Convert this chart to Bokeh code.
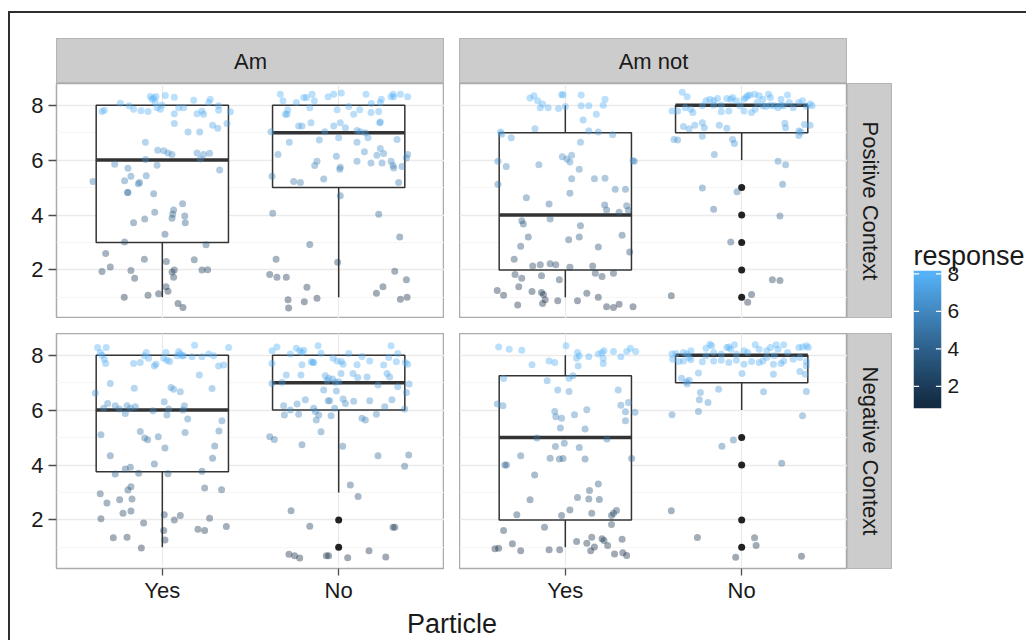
import numpy as np
from math import pi
from bokeh.plotting import figure
from bokeh.models import (Range1d, FixedTicker, Label, LinearColorMapper,
                          Spacer, ColumnDataSource)
from bokeh.layouts import row, column
from bokeh.transform import linear_cmap
from bokeh.embed import file_html
from bokeh.resources import INLINE

# ---------------------------------------------------------------- data
cats = ["Yes", "No"]
particle_facets = ["Am", "Am not"]
context_facets = ["Positive Context", "Negative Context"]
x_title = "Particle"
legend_title = "response"
y_ticks = [2, 4, 6, 8]
y_minor = [1, 3, 5, 7]
legend_ticks = [2, 4, 6, 8]
resp_low, resp_high = 1, 8

# box statistics per panel: [Yes, No]
am_pos_q1, am_pos_med, am_pos_q3, am_pos_lo, am_pos_hi = [3, 5], [6, 7], [8, 8], [1, 1], [8, 8]
amnot_pos_q1, amnot_pos_med, amnot_pos_q3, amnot_pos_lo, amnot_pos_hi = [2, 7], [4, 8], [7, 8], [1, 6], [8, 8]
am_neg_q1, am_neg_med, am_neg_q3, am_neg_lo, am_neg_hi = [3.75, 6], [6, 7], [8, 8], [1, 3], [8, 8]
amnot_neg_q1, amnot_neg_med, amnot_neg_q3, amnot_neg_lo, amnot_neg_hi = [2, 7], [5, 8], [7.25, 8], [1, 6], [8, 8]

# box-plot outliers
am_pos_out_cat, am_pos_out_y = [], []
amnot_pos_out_cat, amnot_pos_out_y = ["No"] * 5, [5, 4, 3, 2, 1]
am_neg_out_cat, am_neg_out_y = ["No"] * 2, [2, 1]
amnot_neg_out_cat, amnot_neg_out_y = ["No"] * 4, [5, 4, 2, 1]

# jittered responses (x position, response)
am_pos_yes = [
    (0.658, 7.77), (0.671, 7.82), (0.762, 8.07), (0.811, 7.98), (0.837, 7.85), (0.879, 7.80), (0.919, 7.77),
    (0.932, 8.32), (0.941, 8.22), (0.951, 8.26), (0.964, 8.32), (0.970, 7.91), (0.989, 7.85), (0.998, 8.00),
    (1.017, 8.35), (1.068, 8.29), (1.068, 7.69), (1.093, 7.91), (1.121, 7.91), (1.178, 8.18), (1.197, 7.69),
    (1.225, 7.79), (1.234, 7.67), (1.263, 8.10), (1.272, 8.22), (1.319, 7.82), (1.319, 7.98), (1.386, 7.76),
    (0.960, 8.10), (1.068, 7.33), (1.146, 7.02), (1.212, 7.02), (1.285, 7.27), (1.314, 7.16), (1.367, 7.33),
    (0.904, 6.65), (0.974, 6.36), (1.008, 6.34), (1.032, 6.26), (1.055, 6.20), (1.197, 6.26), (1.216, 6.04),
    (1.234, 6.20), (1.268, 6.25), (0.905, 6.02), (0.730, 5.85), (0.970, 5.81), (1.325, 5.64), (0.805, 5.70),
    (0.607, 5.22), (0.786, 5.25), (0.822, 5.41), (0.864, 5.14), (0.871, 5.18), (0.909, 5.43), (0.805, 4.82),
    (0.803, 4.82), (0.951, 4.77), (1.115, 4.41), (1.064, 4.18), (1.059, 4.03), (1.055, 3.88), (1.127, 3.96),
    (1.130, 3.72), (0.957, 4.10), (0.900, 3.85), (0.837, 3.72), (1.015, 3.30), (0.786, 3.02), (1.248, 2.92),
    (0.679, 2.60), (0.705, 2.11), (0.658, 1.94), (0.822, 1.98), (0.843, 1.70), (0.898, 2.39), (1.023, 2.31),
    (1.068, 2.00), (1.055, 1.92), (1.064, 1.73), (1.181, 2.37), (1.225, 2.00), (1.257, 2.01), (0.784, 1.00),
    (0.919, 1.08), (0.979, 1.13), (1.021, 1.39), (1.032, 1.22), (1.089, 0.78), (1.117, 0.63)]
am_pos_no = [
    (1.669, 8.40), (1.684, 8.16), (1.698, 7.67), (1.711, 7.83), (1.707, 7.67), (1.760, 8.10), (1.802, 8.28),
    (1.817, 8.28), (1.836, 7.91), (1.849, 8.40), (1.862, 8.16), (1.940, 8.31), (1.972, 8.40), (2.015, 8.44),
    (1.991, 7.83), (2.057, 7.95), (2.085, 7.67), (2.119, 7.83), (2.155, 8.40), (2.183, 7.73), (2.185, 8.06),
    (2.227, 7.77), (2.242, 8.22), (2.297, 8.31), (2.308, 8.40), (2.312, 8.31), (2.350, 8.40), (2.391, 8.31),
    (2.236, 8.10), (1.616, 7.03), (1.773, 7.24), (1.792, 7.24), (1.843, 7.36), (1.921, 7.03), (1.972, 7.24),
    (2.009, 7.36), (2.038, 7.18), (2.104, 7.08), (2.123, 7.03), (2.151, 7.00), (2.166, 6.81), (2.233, 7.36),
    (2.236, 7.39), (2.331, 6.75), (1.890, 6.73), (2.000, 6.81), (2.104, 6.65), (1.720, 6.65), (1.656, 6.20),
    (2.146, 6.30), (2.236, 6.42), (2.217, 6.18), (2.255, 6.24), (1.987, 6.14), (2.391, 6.20), (2.384, 6.08),
    (2.104, 5.96), (2.183, 5.89), (2.246, 5.89), (2.297, 5.96), (2.308, 5.80), (1.877, 5.96), (1.864, 5.80),
    (2.359, 5.77), (2.312, 5.71), (2.006, 5.67), (2.009, 5.74), (1.622, 5.41), (1.745, 5.22), (1.783, 5.18),
    (1.915, 5.31), (2.340, 5.18), (2.009, 4.70), (1.626, 4.06), (2.227, 4.03), (1.836, 2.93), (2.346, 3.20),
    (1.645, 2.39), (1.994, 2.28), (2.318, 1.95), (1.609, 1.83), (1.650, 1.73), (1.703, 1.73), (1.820, 1.37),
    (2.384, 1.64), (1.713, 0.91), (1.716, 0.61), (1.805, 0.84), (1.877, 0.97), (2.214, 1.15), (2.251, 1.39),
    (2.350, 0.93), (2.388, 1.00)]
amnot_pos_yes = [
    (0.800, 8.26), (0.822, 8.34), (0.843, 8.16), (0.858, 7.91), (0.871, 8.04), (0.903, 7.91), (0.961, 7.88),
    (0.979, 8.38), (0.987, 8.38), (1.000, 7.95), (1.090, 8.37), (1.090, 7.98), (1.133, 7.98), (1.176, 7.67),
    (1.215, 8.00), (1.225, 8.22), (1.101, 7.46), (0.633, 7.02), (0.639, 6.94), (0.693, 6.81), (0.828, 7.14),
    (1.133, 7.06), (1.187, 7.02), (1.268, 6.92), (1.086, 6.65), (0.983, 6.12), (1.009, 6.04), (1.036, 6.18),
    (1.026, 5.93), (0.618, 5.96), (0.665, 5.77), (0.850, 5.83), (1.384, 5.98), (1.391, 5.96), (1.079, 5.67),
    (1.036, 5.32), (1.165, 5.32), (1.225, 5.34), (1.283, 4.94), (1.341, 4.94), (0.618, 5.12), (1.026, 4.79),
    (0.779, 4.63), (0.908, 4.40), (1.223, 4.36), (1.234, 4.18), (1.305, 4.10), (1.348, 4.34), (1.358, 4.16),
    (0.753, 3.79), (0.914, 3.85), (0.762, 3.67), (1.086, 3.61), (1.019, 3.10), (1.079, 3.20), (0.790, 3.20),
    (1.322, 3.26), (0.747, 2.86), (1.187, 2.83), (1.365, 2.65), (0.710, 2.39), (0.815, 2.14), (0.858, 2.19),
    (0.914, 2.22), (0.946, 2.19), (1.026, 2.10), (1.155, 2.14), (1.170, 1.88), (1.208, 1.76), (1.273, 1.88),
    (0.715, 1.83), (0.753, 1.70), (0.865, 1.79), (0.966, 1.64), (0.736, 1.39), (0.614, 1.25), (0.650, 1.08),
    (0.811, 1.21), (0.865, 1.18), (0.876, 1.10), (0.886, 0.91), (0.871, 0.78), (0.957, 0.88), (1.069, 0.88),
    (1.122, 1.15), (1.187, 1.00), (1.234, 0.66), (1.273, 0.63), (1.305, 0.75), (1.384, 0.66), (0.730, 0.72)]
amnot_pos_no = [
    (1.663, 8.47), (1.691, 8.31), (1.712, 7.85), (1.723, 7.73), (1.777, 7.98), (1.798, 8.16), (1.820, 8.22),
    (1.841, 8.16), (1.863, 8.24), (1.884, 8.00), (1.916, 8.24), (1.938, 8.22), (1.948, 8.28), (1.970, 8.16),
    (1.991, 7.98), (2.013, 8.22), (2.024, 8.28), (2.034, 8.34), (2.045, 8.37), (2.056, 7.73), (2.073, 8.40),
    (2.088, 8.10), (2.099, 8.34), (2.120, 8.22), (2.137, 7.95), (2.152, 8.40), (2.163, 8.28), (2.185, 7.98),
    (2.206, 7.91), (2.223, 8.22), (2.238, 7.98), (2.260, 8.37), (2.270, 8.10), (2.292, 7.91), (2.324, 8.10),
    (2.345, 8.16), (2.367, 7.95), (2.388, 8.04), (2.399, 7.98), (1.605, 7.79), (1.637, 7.79), (1.680, 7.91),
    (1.841, 8.00), (1.927, 7.79), (2.013, 7.79), (2.077, 7.85), (2.120, 7.98), (2.223, 8.00), (1.884, 7.76),
    (2.163, 8.00), (1.670, 7.22), (1.702, 7.14), (1.734, 7.27), (1.777, 7.36), (1.788, 7.18), (1.873, 7.27),
    (1.916, 7.16), (2.245, 7.34), (2.249, 7.18), (2.324, 7.06), (2.335, 7.02), (2.356, 7.30), (2.388, 7.27),
    (2.324, 6.90), (1.777, 6.87), (1.616, 6.75), (1.637, 6.73), (1.948, 6.75), (1.959, 6.60), (1.845, 6.20),
    (2.206, 5.96), (2.249, 5.83), (1.777, 4.98), (1.974, 4.85), (2.232, 5.12), (1.841, 4.21), (2.217, 3.96),
    (1.938, 3.02), (2.174, 1.64), (2.217, 1.61), (1.601, 1.06), (2.056, 1.10), (2.034, 0.82)]
am_neg_yes = [
    (0.633, 8.28), (0.648, 8.10), (0.658, 8.00), (0.671, 7.85), (0.679, 7.70), (0.682, 8.28), (0.837, 7.70),
    (0.875, 7.73), (0.898, 7.98), (0.909, 8.10), (0.922, 7.89), (0.955, 7.61), (0.964, 7.67), (1.008, 7.89),
    (1.021, 8.10), (1.026, 7.82), (1.042, 7.77), (1.093, 8.13), (1.102, 8.04), (1.121, 7.98), (1.168, 7.94),
    (1.183, 8.36), (1.225, 7.94), (1.263, 8.04), (1.291, 7.98), (1.319, 7.61), (1.348, 7.64), (1.376, 8.28),
    (1.083, 7.98), (1.112, 7.98), (0.705, 6.97), (0.841, 6.80), (1.210, 7.28), (1.049, 6.82), (1.064, 6.76),
    (1.102, 6.67), (1.282, 6.79), (0.620, 6.62), (0.667, 6.07), (0.690, 6.24), (0.733, 6.16), (0.756, 6.04),
    (0.800, 6.16), (0.819, 6.07), (0.847, 6.12), (0.790, 5.88), (0.947, 5.98), (1.011, 6.30), (1.036, 6.04),
    (1.125, 6.16), (1.117, 6.00), (1.026, 5.82), (1.144, 5.68), (1.338, 5.61), (0.652, 5.10), (0.875, 5.22),
    (0.900, 4.98), (0.917, 4.92), (0.977, 5.03), (1.129, 5.18), (1.321, 5.24), (1.297, 4.69), (1.285, 4.25),
    (1.015, 4.62), (0.705, 4.34), (0.790, 3.85), (0.819, 3.92), (0.866, 3.70), (0.733, 3.67), (0.955, 4.04),
    (1.032, 3.68), (1.225, 3.77), (0.805, 3.09), (0.822, 3.21), (0.828, 2.76), (0.758, 2.73), (0.648, 2.95),
    (0.686, 2.62), (0.777, 2.24), (0.822, 2.32), (1.240, 3.16), (1.336, 3.10), (0.652, 2.04), (1.011, 2.19),
    (1.068, 2.00), (1.102, 2.16), (1.268, 2.06), (0.894, 1.89), (0.722, 1.35), (0.800, 1.37), (0.881, 0.98),
    (1.008, 1.61), (1.015, 1.27), (1.202, 1.66), (1.240, 1.61), (1.363, 1.76)]
am_neg_no = [
    (1.622, 8.16), (1.650, 8.30), (1.726, 8.04), (1.760, 8.25), (1.779, 8.16), (1.792, 8.10), (1.802, 8.18),
    (1.845, 7.76), (1.854, 7.73), (1.883, 8.34), (1.900, 8.07), (1.968, 7.89), (1.991, 7.79), (2.015, 7.77),
    (2.025, 7.67), (2.057, 8.06), (2.104, 7.65), (2.132, 7.95), (2.176, 7.79), (2.255, 7.64), (2.284, 7.92),
    (2.297, 8.34), (2.335, 8.06), (2.327, 7.76), (2.378, 7.73), (2.391, 7.67), (1.622, 7.70), (1.792, 7.65),
    (1.622, 6.97), (1.679, 7.01), (1.703, 7.28), (1.786, 7.28), (1.858, 7.73), (1.924, 7.25), (1.934, 7.07),
    (1.943, 7.16), (1.966, 7.13), (1.981, 7.01), (2.013, 7.33), (2.081, 7.33), (2.108, 7.19), (2.161, 7.21),
    (2.223, 6.91), (2.274, 7.33), (2.289, 7.21), (2.335, 6.85), (2.399, 6.95), (2.000, 7.03), (1.688, 6.16),
    (1.726, 6.00), (1.764, 6.22), (1.811, 6.38), (1.858, 6.07), (1.868, 5.95), (1.915, 6.73), (1.940, 6.34),
    (1.987, 6.70), (1.977, 6.07), (1.949, 6.34), (2.025, 6.40), (2.038, 6.24), (2.085, 6.32), (2.176, 6.34),
    (2.214, 5.85), (2.261, 6.12), (2.302, 6.38), (2.374, 6.04), (2.384, 6.64), (2.132, 5.70), (2.151, 5.64),
    (1.692, 5.82), (1.773, 5.85), (1.873, 5.64), (1.887, 5.82), (1.957, 5.79), (1.900, 5.21), (1.609, 5.03),
    (1.635, 4.93), (1.792, 4.74), (2.023, 4.68), (2.223, 4.34), (2.397, 4.36), (2.374, 3.95), (2.066, 3.27),
    (2.110, 2.85), (1.730, 2.33), (1.836, 1.77), (2.308, 1.73), (2.318, 1.73), (1.718, 0.75), (1.750, 0.69),
    (1.779, 0.61), (1.930, 0.69), (1.943, 0.69), (2.051, 0.62), (2.172, 0.88), (2.267, 0.65)]
amnot_neg_yes = [
    (0.622, 8.30), (0.682, 8.22), (0.753, 8.18), (1.004, 8.34), (1.069, 8.10), (1.064, 7.89), (1.079, 7.98),
    (1.133, 7.94), (1.187, 8.04), (1.208, 8.10), (1.219, 8.16), (1.273, 8.13), (1.315, 7.94), (1.348, 8.13),
    (1.369, 8.25), (1.399, 8.13), (0.811, 7.65), (0.908, 7.79), (0.940, 7.73), (1.073, 7.61), (1.215, 7.89),
    (1.215, 7.70), (0.650, 7.15), (0.897, 7.07), (1.021, 7.16), (1.043, 7.25), (0.957, 6.73), (1.021, 6.68),
    (1.300, 6.73), (0.614, 6.22), (0.646, 6.16), (0.940, 5.95), (0.946, 5.76), (0.979, 5.70), (1.052, 5.83),
    (1.122, 6.01), (1.315, 6.18), (1.358, 6.28), (1.341, 5.94), (1.341, 5.61), (1.395, 5.92), (0.972, 5.35),
    (1.112, 5.31), (0.839, 4.98), (1.236, 4.95), (0.944, 4.67), (0.994, 4.79), (1.079, 4.64), (0.747, 4.34),
    (0.914, 4.25), (0.966, 4.22), (0.987, 4.24), (1.112, 4.22), (1.376, 4.24), (0.657, 4.00), (0.667, 4.00),
    (0.826, 3.64), (1.187, 3.31), (1.137, 3.07), (1.133, 2.76), (1.193, 2.74), (1.069, 2.82), (0.800, 2.73),
    (1.026, 2.36), (0.979, 2.16), (1.150, 2.24), (1.262, 2.16), (1.273, 2.24), (1.290, 2.34), (0.725, 2.19),
    (1.262, 1.83), (0.650, 1.61), (0.882, 1.73), (1.064, 1.21), (1.122, 1.15), (1.150, 1.37), (1.165, 1.01),
    (1.144, 0.88), (1.208, 1.31), (1.240, 1.07), (1.219, 1.25), (1.322, 1.30), (0.700, 1.13), (0.747, 0.88),
    (0.908, 0.91), (0.968, 0.91), (0.601, 0.95), (0.622, 0.97), (1.279, 0.76), (1.326, 0.80), (1.348, 0.70)]
amnot_neg_no = [
    (1.605, 8.04), (1.627, 8.06), (1.670, 8.10), (1.691, 8.04), (1.712, 8.16), (1.798, 8.25), (1.820, 8.40),
    (1.830, 8.34), (1.841, 8.10), (1.884, 8.04), (1.916, 8.28), (1.927, 8.30), (1.938, 8.22), (1.959, 8.38),
    (2.013, 8.16), (2.034, 8.10), (2.077, 8.38), (2.099, 8.22), (2.142, 8.16), (2.163, 8.28), (2.195, 8.38),
    (2.206, 8.22), (2.238, 8.38), (2.260, 8.10), (2.324, 8.28), (2.345, 8.30), (2.367, 8.34), (2.378, 8.28),
    (1.609, 7.85), (1.644, 7.77), (1.670, 7.79), (1.712, 7.83), (1.777, 7.76), (1.841, 7.79), (1.884, 7.82),
    (1.927, 7.73), (1.970, 7.82), (2.013, 7.67), (2.056, 7.77), (2.099, 7.73), (2.120, 7.79), (2.180, 7.67),
    (2.223, 7.70), (2.238, 7.79), (2.292, 7.85), (2.330, 7.92), (2.367, 7.77), (1.702, 7.92), (2.185, 7.98),
    (1.798, 7.98), (1.970, 8.04), (2.142, 7.92), (1.659, 7.16), (1.687, 7.03), (1.702, 7.09), (1.755, 7.35),
    (1.869, 6.76), (2.002, 7.33), (2.180, 7.31), (2.330, 7.41), (2.367, 7.61), (2.361, 7.31), (1.691, 6.95),
    (1.766, 6.64), (1.760, 6.38), (1.809, 6.28), (1.755, 5.95), (1.605, 5.83), (2.124, 6.67), (2.367, 6.68),
    (2.345, 5.79), (1.888, 4.68), (1.953, 4.91), (2.227, 4.06), (1.601, 2.33), (1.749, 1.36), (2.073, 1.35),
    (2.082, 1.07), (1.966, 0.64), (2.339, 0.68)]

# ---------------------------------------------------------------- style
FONT = "Liberation Sans"
TXT = "#1a1a1a"
BOX = "#333333"
LOW_COL, HIGH_COL = "#132B43", "#56B1F7"
pos = list(range(1, len(cats) + 1))
box_width = 0.75
X_RANGE = (0.4, 2.6)
Y_RANGE = (0.23, 8.79)
PW, PH = 388, 235
XAX_H = 39   # room under the bottom panels for ticks and tick labels
TF_H = 33    # height of the x-axis title band


def _lab_palette(c0, c1, n=256):
    M = np.array([[0.4124564, 0.3575761, 0.1804375],
                  [0.2126729, 0.7151522, 0.0721750],
                  [0.0193339, 0.1191920, 0.9503041]])
    Mi = np.linalg.inv(M)
    W = np.array([0.95047, 1.0, 1.08883])
    d = 6 / 29

    def to_lab(h):
        rgb = np.array([int(h[i:i + 2], 16) / 255 for i in (1, 3, 5)])
        lin = np.where(rgb <= 0.04045, rgb / 12.92, ((rgb + 0.055) / 1.055) ** 2.4)
        t = (M @ lin) / W
        f = np.where(t > d ** 3, np.cbrt(t), t / (3 * d * d) + 4 / 29)
        return np.array([116 * f[1] - 16, 500 * (f[0] - f[1]), 200 * (f[1] - f[2])])

    def to_hex(lab):
        fy = (lab[0] + 16) / 116
        f = np.array([fy + lab[1] / 500, fy, fy - lab[2] / 200])
        t = np.where(f > d, f ** 3, 3 * d * d * (f - 4 / 29)) * W
        lin = np.clip(Mi @ t, 0, 1)
        rgb = np.where(lin <= 0.0031308, 12.92 * lin, 1.055 * lin ** (1 / 2.4) - 0.055)
        r, g, b = (np.clip(rgb, 0, 1) * 255).round().astype(int)
        return "#%02x%02x%02x" % (r, g, b)

    a, b = to_lab(c0), to_lab(c1)
    return [to_hex(a + (b - a) * s) for s in np.linspace(0, 1, n)]


PAL = _lab_palette(LOW_COL, HIGH_COL)


def style_axis(ax, out, standoff, size="22px"):
    ax.axis_line_color = None
    ax.major_tick_line_color = "#4D4D4D"
    ax.major_tick_line_width = 1.3
    ax.major_tick_in = 0
    ax.major_tick_out = out
    ax.minor_tick_line_color = None
    ax.major_label_text_font = FONT
    ax.major_label_text_font_size = size
    ax.major_label_text_color = TXT
    ax.major_label_standoff = standoff


def panel(groups, q1, med, q3, lo, hi, out_cat, out_y, show_y, show_x):
    p = figure(frame_width=PW, frame_height=PH,
               x_range=Range1d(*X_RANGE), y_range=Range1d(*Y_RANGE),
               x_axis_location="below" if show_x else None,
               y_axis_location="left" if show_y else None,
               toolbar_location=None, output_backend="svg", title=None,
               min_border=0, min_border_left=46 if show_y else 0,
               min_border_bottom=XAX_H if show_x else 0)
    p.background_fill_color = "white"
    p.border_fill_color = "white"
    p.outline_line_color = "#ABABAB"
    p.outline_line_width = 1.5
    p.xgrid.ticker = FixedTicker(ticks=pos)
    p.ygrid.ticker = FixedTicker(ticks=y_ticks, minor_ticks=y_minor)
    p.xgrid.grid_line_color = "#EBEBEB"
    p.ygrid.grid_line_color = "#EBEBEB"
    p.xgrid.grid_line_width = 1.3
    p.ygrid.grid_line_width = 1.3
    p.ygrid.minor_grid_line_color = "#F5F5F5"
    p.ygrid.minor_grid_line_width = 0.9
    if show_y:
        ax = p.yaxis[0]
        ax.ticker = FixedTicker(ticks=y_ticks)
        style_axis(ax, 8, 5)
    if show_x:
        ax = p.xaxis[0]
        ax.ticker = FixedTicker(ticks=pos)
        ax.major_label_overrides = {pos[i]: cats[i] for i in range(len(cats))}
        style_axis(ax, 7, 2)

    half = box_width / 2
    p.segment(x0=pos, y0=q3, x1=pos, y1=hi, line_color=BOX, line_width=1.5)
    p.segment(x0=pos, y0=q1, x1=pos, y1=lo, line_color=BOX, line_width=1.5)
    p.vbar(x=pos, width=box_width, bottom=q1, top=q3, fill_color="white",
           line_color=BOX, line_width=1.5)
    p.segment(x0=[c - half for c in pos], y0=med, x1=[c + half for c in pos], y1=med,
              line_color=BOX, line_width=3.5)
    if out_y:
        p.scatter(x=[pos[cats.index(c)] for c in out_cat], y=out_y, size=7,
                  fill_color="#222222", line_color=None)
    for g in groups:
        xs = [v[0] for v in g]
        ys = [v[1] for v in g]
        src = ColumnDataSource(dict(x=xs, y=ys))
        p.scatter("x", "y", source=src, size=7,
                  fill_color=linear_cmap("y", PAL, resp_low, resp_high),
                  line_color=None, fill_alpha=0.4)
    return p


def strip(text, w, h, vertical, bottom=0):
    s = figure(frame_width=w, frame_height=h, x_range=Range1d(0, 1), y_range=Range1d(0, 1),
               x_axis_location=None, y_axis_location=None, toolbar_location=None,
               output_backend="svg", title=None, min_border=0, min_border_bottom=bottom)
    s.grid.visible = False
    s.background_fill_color = "#CCCCCC"
    s.border_fill_color = "white"
    s.outline_line_color = "#B5B5B5"
    s.outline_line_width = 1.2
    s.add_layout(Label(x=0.5, y=0.5, text=text, text_align="center", text_baseline="middle",
                       angle=-pi / 2 if vertical else 0, text_font=FONT,
                       text_font_size="22px", text_color=TXT))
    return s


tl = panel([am_pos_yes, am_pos_no], am_pos_q1, am_pos_med, am_pos_q3, am_pos_lo, am_pos_hi,
           am_pos_out_cat, am_pos_out_y, True, False)
tr = panel([amnot_pos_yes, amnot_pos_no], amnot_pos_q1, amnot_pos_med, amnot_pos_q3, amnot_pos_lo,
           amnot_pos_hi, amnot_pos_out_cat, amnot_pos_out_y, False, False)
bl = panel([am_neg_yes, am_neg_no], am_neg_q1, am_neg_med, am_neg_q3, am_neg_lo, am_neg_hi,
           am_neg_out_cat, am_neg_out_y, True, True)
br = panel([amnot_neg_yes, amnot_neg_no], amnot_neg_q1, amnot_neg_med, amnot_neg_q3, amnot_neg_lo,
           amnot_neg_hi, amnot_neg_out_cat, amnot_neg_out_y, False, True)

# x-axis title
tf = figure(frame_width=2 * PW + 15, frame_height=TF_H, min_border=0, min_border_left=46,
            min_border_right=45, x_range=Range1d(0, 1), y_range=Range1d(0, TF_H),
            x_axis_location=None, y_axis_location=None, toolbar_location=None,
            output_backend="svg", title=None)
tf.grid.visible = False
tf.outline_line_color = None
tf.add_layout(Label(x=0.5, y=16.7, text=x_title, text_align="center", text_baseline="middle",
                    text_font=FONT, text_font_size="27px", text_color=TXT))

# colour bar legend
nbin = 20
half_bin = 0.5 * (resp_high - resp_low) / (nbin - 1)
bar_lo, bar_hi = resp_low - half_bin, resp_high + half_bin
lg = figure(frame_width=28, frame_height=138, min_border=0, min_border_left=21,
            min_border_top=34, min_border_right=85, min_border_bottom=2,
            x_range=Range1d(0, 1), y_range=Range1d(bar_lo, bar_hi),
            x_axis_location=None, y_axis_location="right", toolbar_location=None,
            output_backend="svg", title=legend_title)
lg.title.text_font = FONT
lg.title.text_font_size = "27px"
lg.title.text_font_style = "normal"
lg.title.text_color = TXT
lg.title.align = "left"
lg.title.standoff = 0
lg.outline_line_color = None
lg.grid.visible = False
mapper = LinearColorMapper(palette=PAL, low=resp_low, high=resp_high)
grad = np.linspace(bar_lo, bar_hi, 200).reshape(-1, 1)
lg.image(image=[grad], x=0, y=bar_lo, dw=1, dh=bar_hi - bar_lo, color_mapper=mapper)
tick_len = 0.2
lg.segment(x0=0, x1=tick_len, y0=legend_ticks, y1=legend_ticks, line_color="white", line_width=1.3)
lg.segment(x0=1 - tick_len, x1=1, y0=legend_ticks, y1=legend_ticks, line_color="white", line_width=1.3)
rax = lg.yaxis[0]
rax.ticker = FixedTicker(ticks=legend_ticks)
style_axis(rax, 0, 6, size="21px")
rax.major_tick_line_color = None

# ---------------------------------------------------------------- layout
strip_row = row(Spacer(width=46, height=45), strip(particle_facets[0], PW, 45, False),
                Spacer(width=15, height=45), strip(particle_facets[1], PW, 45, False))
top_row = row(tl, Spacer(width=15, height=PH), tr, strip(context_facets[0], 45, PH, True))
bot_row = row(bl, Spacer(width=15, height=PH), br,
              strip(context_facets[1], 45, PH, True, bottom=XAX_H))
LEFT_W = 46 + 2 * PW + 15 + 45
left_col = column(Spacer(width=LEFT_W, height=25), strip_row, top_row,
                  Spacer(width=LEFT_W, height=15), bot_row, tf)
legend_col = column(Spacer(width=134, height=223), lg)
BORDER = "#2E2E2E"
COL_H = 25 + 45 + PH + 15 + PH + XAX_H + TF_H
root = column(Spacer(width=1026, height=11),
              row(Spacer(width=8, height=2),
                  Spacer(width=1018, height=2, styles={"background-color": BORDER})),
              row(Spacer(width=8, height=COL_H),
                  Spacer(width=2, height=COL_H, styles={"background-color": BORDER}),
                  left_col, legend_col))

open("out.html", "w").write(file_html(root, INLINE))
